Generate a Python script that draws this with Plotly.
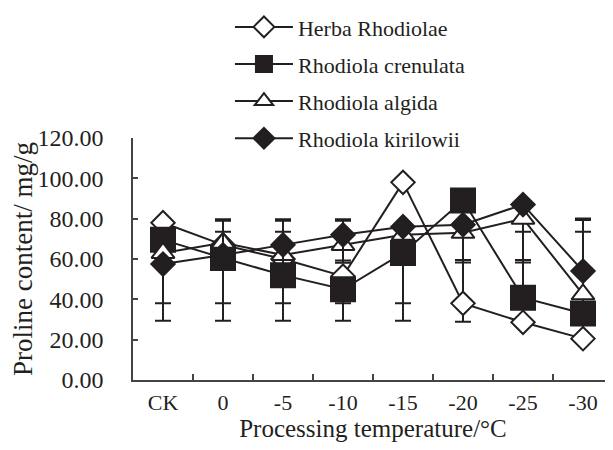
import plotly.graph_objects as go

categories = ["CK", "0", "-5", "-10", "-15", "-20", "-25", "-30"]

herba = [78, 67, 60, 51.5, 98, 38, 28.6, 20.5]
crenulata = [69.5, 60.5, 52, 45, 63, 89, 40.8, 33]
algida = [63, 68, 62, 67, 72, 73, 80, 42.5]
kirilowii = [57.5, 62, 67, 72, 76, 77, 87, 54]

# error bar extents (upper / lower)
herba_err_up = [0, 6.5, 13.5, 0, 0, 21.5, 44.9, 53]
herba_err_dn = [0, 0, 0, 22.1, 0, 9.1, 0, 0]
crenulata_err_up = [0, 0, 0, 0, 0, 0, 18.7, 0]
crenulata_err_dn = [31.5, 22.5, 14, 7, 25, 0, 0, 0]
algida_err_up = [0, 11.7, 17.7, 12.7, 0, 0, 0, 36.8]
algida_err_dn = [0, 0, 0, 7.8, 0, 14.7, 21.7, 0]
kirilowii_err_up = [0, 17, 12, 7, 0, 0, 0, 26.1]
kirilowii_err_dn = [28.1, 32.6, 37.6, 13.8, 46.6, 0, 0, 0]

names = ["Herba Rhodiolae", "Rhodiola crenulata", "Rhodiola algida", "Rhodiola kirilowii"]
ink = "#231F20"
serif = "Liberation Serif"

series = [
    (names[0], herba, herba_err_up, herba_err_dn, "diamond", 18, "white"),
    (names[1], crenulata, crenulata_err_up, crenulata_err_dn, "square", 24, ink),
    (names[2], algida, algida_err_up, algida_err_dn, "triangle-up", 20, "white"),
    (names[3], kirilowii, kirilowii_err_up, kirilowii_err_dn, "diamond", 18, ink),
]

fig = go.Figure()
for i, (nm, vals, eu, ed, sym, sz, fill) in enumerate(series):
    fig.add_trace(go.Scatter(
        x=categories, y=vals, name=nm, mode="lines+markers",
        legendgroup=nm,
        line=dict(color=ink, width=2),
        marker=dict(symbol=sym, size=sz, color=fill, line=dict(color=ink, width=2)),
        error_y=dict(type="data", array=eu, arrayminus=ed, symmetric=False,
                     color=ink, thickness=2, width=8),
    ))

# the page body adds an 8px offset, so the figure is 8px smaller on each axis
fig.update_layout(
    width=605, height=442,
    margin=dict(l=125, r=0, t=130, b=70, autoexpand=False),
    paper_bgcolor="white", plot_bgcolor="white",
    font=dict(family=serif, color=ink, size=22),
    showlegend=True,
    legend=dict(
        x=0.202, y=1.545, xanchor="left", yanchor="top",
        font=dict(family=serif, size=22, color=ink),
        itemwidth=58,
        tracegroupgap=5.5, bgcolor="rgba(0,0,0,0)", borderwidth=0,
    ),
    xaxis=dict(
        type="category", range=[-0.5, 7.5],
        showline=True, linecolor="#444", linewidth=1.5,
        ticks="inside", ticklen=6, tickwidth=1.5, tickcolor="#444",
        tickson="boundaries", showgrid=False, zeroline=False,
        tickfont=dict(family=serif, size=22, color=ink),
        ticklabelstandoff=2,
        title=dict(text="Processing temperature/°C",
                   font=dict(family=serif, size=25, color=ink), standoff=5),
    ),
    yaxis=dict(
        range=[0, 120], dtick=20, tickformat=".2f",
        showline=True, linecolor="#444", linewidth=1.5,
        ticks="inside", ticklen=5, tickwidth=1.5, tickcolor="#444",
        showgrid=False, zeroline=False,
        tickfont=dict(family=serif, size=24, color=ink),
        ticklabelstandoff=23,
        title=dict(text="Proline content/ mg/g",
                   font=dict(family=serif, size=27, color=ink), standoff=12),
    ),
)

fig.write_html("out.html")
